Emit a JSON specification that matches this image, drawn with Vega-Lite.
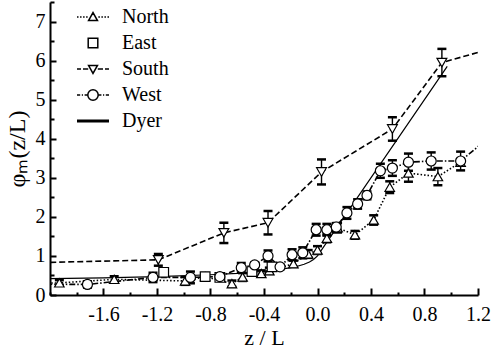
{
  "$schema": "https://vega.github.io/schema/vega-lite/v6.json",
  "width": 428,
  "height": 293,
  "autosize": {"type": "none"},
  "padding": {"left": 50, "top": 2, "right": 13, "bottom": 58},
  "background": "white",
  "config": {"view": {"stroke": null}, "font": "Liberation Serif"},
  "datasets": {
    "obs": [
      {"series": "North", "x": -2.2, "y": 0.29},
      {"series": "North", "x": -1.93, "y": 0.31, "lo": 0.24, "hi": 0.38},
      {"series": "North", "x": -1.52, "y": 0.40, "lo": 0.32, "hi": 0.48},
      {"series": "North", "x": -0.99, "y": 0.36, "lo": 0.26, "hi": 0.46},
      {"series": "North", "x": -0.84, "y": 0.47, "lo": 0.41, "hi": 0.53},
      {"series": "North", "x": -0.64, "y": 0.29, "lo": 0.21, "hi": 0.37},
      {"series": "North", "x": -0.56, "y": 0.46, "lo": 0.36, "hi": 0.56},
      {"series": "North", "x": -0.42, "y": 0.55, "lo": 0.47, "hi": 0.63},
      {"series": "North", "x": -0.36, "y": 0.62, "lo": 0.54, "hi": 0.70},
      {"series": "North", "x": -0.18, "y": 0.80, "lo": 0.72, "hi": 0.88},
      {"series": "North", "x": -0.07, "y": 1.05, "lo": 0.95, "hi": 1.15},
      {"series": "North", "x": 0.00, "y": 1.15, "lo": 1.05, "hi": 1.25},
      {"series": "North", "x": 0.07, "y": 1.45, "lo": 1.35, "hi": 1.55},
      {"series": "North", "x": 0.15, "y": 1.72, "lo": 1.60, "hi": 1.84},
      {"series": "North", "x": 0.28, "y": 1.54, "lo": 1.44, "hi": 1.64},
      {"series": "North", "x": 0.42, "y": 1.92, "lo": 1.80, "hi": 2.04},
      {"series": "North", "x": 0.54, "y": 2.76, "lo": 2.61, "hi": 2.91},
      {"series": "North", "x": 0.68, "y": 3.12, "lo": 2.90, "hi": 3.34},
      {"series": "North", "x": 0.90, "y": 3.03, "lo": 2.81, "hi": 3.25},
      {"series": "North", "x": 1.07, "y": 3.40},
      {"series": "East", "x": -1.15, "y": 0.58},
      {"series": "East", "x": -0.84, "y": 0.47},
      {"series": "East", "x": -0.73, "y": 0.45},
      {"series": "East", "x": -0.49, "y": 0.60},
      {"series": "East", "x": -0.34, "y": 0.72},
      {"series": "South", "x": -2.2, "y": 0.82},
      {"series": "South", "x": -1.19, "y": 0.90, "lo": 0.75, "hi": 1.05},
      {"series": "South", "x": -0.70, "y": 1.59, "lo": 1.33, "hi": 1.85},
      {"series": "South", "x": -0.37, "y": 1.85, "lo": 1.55, "hi": 2.15},
      {"series": "South", "x": 0.03, "y": 3.15, "lo": 2.83, "hi": 3.47},
      {"series": "South", "x": 0.56, "y": 4.25, "lo": 3.95, "hi": 4.55},
      {"series": "South", "x": 0.93, "y": 5.95, "lo": 5.60, "hi": 6.30},
      {"series": "South", "x": 1.4, "y": 6.40},
      {"series": "West", "x": -2.2, "y": 0.28},
      {"series": "West", "x": -1.72, "y": 0.27, "lo": 0.19, "hi": 0.35},
      {"series": "West", "x": -1.23, "y": 0.45, "lo": 0.33, "hi": 0.57},
      {"series": "West", "x": -0.95, "y": 0.45, "lo": 0.30, "hi": 0.60},
      {"series": "West", "x": -0.73, "y": 0.47, "lo": 0.41, "hi": 0.53},
      {"series": "West", "x": -0.57, "y": 0.70, "lo": 0.58, "hi": 0.82},
      {"series": "West", "x": -0.47, "y": 0.77, "lo": 0.71, "hi": 0.83},
      {"series": "West", "x": -0.37, "y": 1.00, "lo": 0.86, "hi": 1.14},
      {"series": "West", "x": -0.28, "y": 0.72, "lo": 0.66, "hi": 0.78},
      {"series": "West", "x": -0.19, "y": 1.03, "lo": 0.89, "hi": 1.17},
      {"series": "West", "x": -0.11, "y": 1.08, "lo": 0.94, "hi": 1.22},
      {"series": "West", "x": -0.01, "y": 1.67, "lo": 1.52, "hi": 1.82},
      {"series": "West", "x": 0.07, "y": 1.67, "lo": 1.52, "hi": 1.82},
      {"series": "West", "x": 0.14, "y": 1.74, "lo": 1.64, "hi": 1.84},
      {"series": "West", "x": 0.22, "y": 2.10, "lo": 1.95, "hi": 2.25},
      {"series": "West", "x": 0.30, "y": 2.33, "lo": 2.21, "hi": 2.45},
      {"series": "West", "x": 0.37, "y": 2.55, "lo": 2.45, "hi": 2.65},
      {"series": "West", "x": 0.47, "y": 3.18, "lo": 3.00, "hi": 3.36},
      {"series": "West", "x": 0.56, "y": 3.25, "lo": 3.05, "hi": 3.45},
      {"series": "West", "x": 0.68, "y": 3.40, "lo": 3.18, "hi": 3.62},
      {"series": "West", "x": 0.85, "y": 3.43, "lo": 3.21, "hi": 3.65},
      {"series": "West", "x": 1.07, "y": 3.43, "lo": 3.19, "hi": 3.67},
      {"series": "West", "x": 1.3, "y": 4.08}
    ],
    "dyer": [
      {"series": "Dyer", "x": -2.0, "y": 0.417},
      {"series": "Dyer", "x": -1.6, "y": 0.440},
      {"series": "Dyer", "x": -1.2, "y": 0.471},
      {"series": "Dyer", "x": -0.8, "y": 0.518},
      {"series": "Dyer", "x": -0.6, "y": 0.554},
      {"series": "Dyer", "x": -0.4, "y": 0.606},
      {"series": "Dyer", "x": -0.3, "y": 0.645},
      {"series": "Dyer", "x": -0.2, "y": 0.699},
      {"series": "Dyer", "x": -0.15, "y": 0.736},
      {"series": "Dyer", "x": -0.1, "y": 0.788},
      {"series": "Dyer", "x": -0.06, "y": 0.845},
      {"series": "Dyer", "x": -0.03, "y": 0.907},
      {"series": "Dyer", "x": 0.0, "y": 1.0},
      {"series": "Dyer", "x": 0.97, "y": 5.85}
    ]
  },
  "resolve": {
    "scale": {"shape": "independent", "size": "independent"},
    "axis": {"x": "independent", "y": "independent"}
  },
  "layer": [
    {
      "data": {"name": "dyer"},
      "mark": {"type": "line", "color": "black", "strokeWidth": 1.2, "clip": true},
      "encoding": {
        "x": {
          "field": "x", "type": "quantitative",
          "scale": {"domain": [-2, 1.2], "nice": false, "zero": false},
          "axis": {
            "orient": "bottom",
            "values": [-1.6, -1.2, -0.8, -0.4, 0, 0.4, 0.8, 1.2],
            "title": "z / L", "titleFont": "Liberation Serif", "titleFontSize": 22, "titleFontWeight": "normal", "titleColor": "black", "titlePadding": 3,
            "labelFont": "Liberation Serif", "labelFontSize": 20, "labelColor": "black", "labelPadding": 16, "labelFlush": false, "labelOverlap": false,
            "labelExpr": "replace(format(datum.value,'.1f'),'\u2212','-')",
            "tickSize": -7, "tickWidth": 2, "tickColor": "black", "domainWidth": 2, "domainColor": "black", "grid": false
          }
        },
        "y": {
          "field": "y", "type": "quantitative",
          "scale": {"domain": [0, 7.5], "nice": false, "zero": false},
          "axis": {
            "orient": "left",
            "values": [0, 1, 2, 3, 4, 5, 6, 7],
            "title": "φₘ(z/L)", "titleFont": "Liberation Serif", "titleFontSize": 24, "titleFontWeight": "normal", "titleColor": "black", "titlePadding": 6,
            "labelFont": "Liberation Serif", "labelFontSize": 20, "labelColor": "black", "labelPadding": 11, "labelFlush": false, "labelOverlap": false,
            "format": "d",
            "tickSize": -6, "tickWidth": 2, "tickColor": "black", "domainWidth": 2, "domainColor": "black", "grid": false
          }
        }
      }
    },
    {
      "data": {"name": "obs"},
      "transform": [{"filter": "datum.series != 'East'"}],
      "mark": {"type": "line", "color": "black", "strokeWidth": 1.6, "clip": true},
      "encoding": {
        "x": {
          "field": "x", "type": "quantitative",
          "axis": {
            "orient": "bottom", "values": [-2, -1.8, -1.4, -1, -0.6, -0.2, 0.2, 0.6, 1],
            "labels": false, "domain": false, "title": null, "grid": false,
            "tickSize": -3, "tickWidth": 2, "tickColor": "black"
          }
        },
        "y": {
          "field": "y", "type": "quantitative",
          "axis": {
            "orient": "left", "values": [0.5, 1.5, 2.5, 3.5, 4.5, 5.5, 6.5, 7.5],
            "labels": false, "domain": false, "title": null, "grid": false,
            "tickSize": -4, "tickWidth": 2, "tickColor": "black"
          }
        },
        "strokeDash": {
          "field": "series", "type": "nominal",
          "scale": {"domain": ["North", "South", "West"], "range": [[1.5, 2], [6, 3], [6, 2, 1.5, 2]]},
          "legend": null
        }
      }
    },
    {
      "data": {"name": "obs"},
      "transform": [{"filter": "isValid(datum.lo)"}],
      "mark": {"type": "rule", "color": "black", "strokeWidth": 1.4, "clip": true},
      "encoding": {
        "x": {"field": "x", "type": "quantitative", "axis": null},
        "y": {"field": "lo", "type": "quantitative", "axis": null},
        "y2": {"field": "hi"}
      }
    },
    {
      "data": {"name": "obs"},
      "transform": [{"filter": "isValid(datum.lo)"}],
      "mark": {"type": "tick", "orient": "horizontal", "color": "black", "size": 9, "thickness": 2.5, "opacity": 1, "clip": true},
      "encoding": {
        "x": {"field": "x", "type": "quantitative", "axis": null},
        "y": {"field": "lo", "type": "quantitative", "axis": null}
      }
    },
    {
      "data": {"name": "obs"},
      "transform": [{"filter": "isValid(datum.hi)"}],
      "mark": {"type": "tick", "orient": "horizontal", "color": "black", "size": 9, "thickness": 2.5, "opacity": 1, "clip": true},
      "encoding": {
        "x": {"field": "x", "type": "quantitative", "axis": null},
        "y": {"field": "hi", "type": "quantitative", "axis": null}
      }
    },
    {
      "data": {"name": "obs"},
      "mark": {"type": "point", "filled": true, "fill": "white", "stroke": "black", "strokeWidth": 1.2, "opacity": 1, "clip": true},
      "encoding": {
        "x": {"field": "x", "type": "quantitative", "axis": null},
        "y": {"field": "y", "type": "quantitative", "axis": null},
        "shape": {
          "field": "series", "type": "nominal",
          "scale": {"domain": ["North", "East", "South", "West"], "range": ["triangle-up", "square", "triangle-down", "circle"]},
          "legend": null
        },
        "size": {
          "field": "series", "type": "nominal",
          "scale": {"domain": ["North", "East", "South", "West"], "range": [90, 100, 90, 121]},
          "legend": null
        }
      }
    },
    {
      "data": {"name": "obs"},
      "transform": [{"filter": "false"}],
      "mark": {"type": "point", "filled": false, "color": "black", "strokeWidth": 1.5, "opacity": 1},
      "encoding": {
        "x": {"field": "x", "type": "quantitative", "axis": null},
        "y": {"field": "y", "type": "quantitative", "axis": null},
        "shape": {
          "field": "series", "type": "nominal",
          "scale": {
            "domain": ["North", "East", "South", "West", "Dyer"],
            "range": [
              "M-2,0H-1.81M-1.62,0H-1.43M-1.24,0H-1.05M-0.86,0H-0.67M0.67,0H0.86M1.05,0H1.24M1.43,0H1.62M1.81,0H2M-0.56,0.45L0,-0.55L0.56,0.45Z",
              "M-0.6,-0.6H0.6V0.6H-0.6Z",
              "M-2,0H-1.5M-1.25,0H-0.6M0.6,0H1.25M1.5,0H2M-0.56,-0.45L0,0.55L0.56,-0.45Z",
              "M-2,0H-1.6M-1.4,0H-1.25M-1.05,0H-0.65M0.65,0H1.05M1.25,0H1.4M1.6,0H2M-0.65,0A0.65,0.65 0 1,0 0.65,0A0.65,0.65 0 1,0 -0.65,0Z",
              "M-2,-0.1H2M-2,0.1H2"
            ]
          },
          "legend": {
            "title": null, "orient": "none", "legendX": 33, "legendY": 5,
            "labelFontSize": 20, "labelFont": "Liberation Serif", "labelColor": "black", "labelOffset": 19,
            "symbolSize": 256, "symbolStrokeWidth": 1.5, "symbolStrokeColor": "black",
            "rowPadding": 6, "padding": 0,
            "encode": {
              "symbols": {
                "update": {
                  "stroke": {"value": "black"},
                  "fill": {"value": "white"},
                  "strokeWidth": {"value": 1.5},
                  "opacity": {"value": 1},
                  "size": {"value": 256}
                }
              }
            }
          }
        }
      }
    }
  ]
}
